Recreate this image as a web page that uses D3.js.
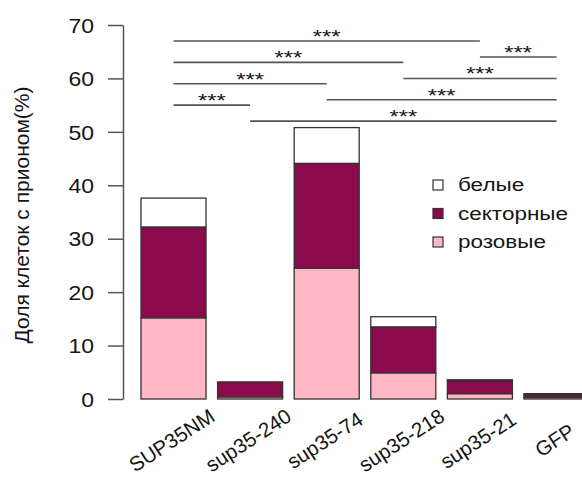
<!DOCTYPE html>
<html>
<head>
<meta charset="utf-8">
<script src="https://cdn.jsdelivr.net/npm/d3@7"></script>
<style>
  body { margin: 0; background: #fff; }
  text { font-family: "Liberation Sans", Arial, sans-serif; fill: #151515; }
</style>
</head>
<body>
<svg id="chart" width="582" height="479"></svg>
<script>
// Strains (x categories)
const categories = ["SUP35NM", "sup35-240", "sup35-74", "sup35-218", "sup35-21", "GFP"];

// Share of cells with prion, % (stacked from the bottom)
const pinkValues   = [15.2, 0.4, 24.5, 4.9, 1.0, 0.3];   // розовые
const sectorValues = [17.0, 2.8, 19.6, 8.6, 2.4, 0.5];   // секторные
const whiteValues  = [5.4, 0.0, 6.7, 1.9, 0.2, 0.2];     // белые

const seriesKeys   = ["pink", "sector", "white"];
const seriesLabels = ["розовые", "секторные", "белые"];
const seriesColors = ["#ffb7c5", "#8b0a4c", "#ffffff"];

const yTicks = [0, 10, 20, 30, 40, 50, 60, 70];
const yLabel = "Доля клеток с прионом(%)";

// Pairwise significance brackets: from category, to category, height (%)
const compFrom  = [0, 0, 0, 0, 4, 3, 2, 1];
const compTo    = [4, 3, 2, 1, 5, 5, 5, 5];
const compLevel = [67, 63, 59, 55, 64, 60, 56, 52];
const sigLabel  = "***";

const svg = d3.select("#chart");

const y = d3.scaleLinear().domain([0, 70]).range([399, 25]);
const x = d3.scaleBand().domain(categories).range([141, 589])
  .paddingInner(0.151).paddingOuter(0);

// Stacked bars
const rows = categories.map((c, i) => ({
  cat: c, pink: pinkValues[i], sector: sectorValues[i], white: whiteValues[i]
}));
const stacked = d3.stack().keys(seriesKeys)(rows);

svg.append("g").selectAll("g")
  .data(stacked)
  .join("g")
  .attr("fill", (d, i) => seriesColors[i])
  .selectAll("rect")
  .data(d => d)
  .join("rect")
  .attr("x", d => x(d.data.cat))
  .attr("width", x.bandwidth())
  .attr("y", d => y(d[1]))
  .attr("height", d => y(d[0]) - y(d[1]))
  .attr("stroke", "#333")
  .attr("stroke-width", 1.3);

// Y axis
const yAxis = svg.append("g")
  .attr("transform", "translate(123,0)")
  .call(d3.axisLeft(y).tickValues(yTicks).tickSize(15).tickSizeOuter(0).tickPadding(14));
yAxis.select(".domain").attr("stroke", "#555").attr("stroke-width", 1.5);
yAxis.selectAll(".tick line").attr("stroke", "#555").attr("stroke-width", 1.5);
yAxis.selectAll(".tick text")
  .attr("font-size", 20)
  .attr("font-family", "Liberation Sans, Arial, sans-serif")
  .attr("fill", "#151515")
  .attr("dy", "0.36em")
  .attr("transform", function () {
    const tx = +d3.select(this).attr("x");
    return `translate(${tx},0) scale(1.15,1) translate(${-tx},0)`;
  });

// Y label
svg.append("text")
  .attr("transform", "translate(29,215) rotate(-90)")
  .attr("text-anchor", "middle")
  .attr("font-size", 21)
  .text(yLabel);

// X labels, rotated
svg.append("g").selectAll("text")
  .data(categories)
  .join("text")
  .attr("transform", d => `translate(${x(d) + x.bandwidth() / 2 - 2},440) rotate(-33)`)
  .attr("text-anchor", "middle")
  .attr("dominant-baseline", "central")
  .attr("font-size", 20.5)
  .text(d => d);

// Significance brackets
const comps = compFrom.map((f, i) => ({ f, t: compTo[i], lvl: compLevel[i] }));
const cx = i => x(categories[i]) + x.bandwidth() / 2;
const sig = svg.append("g");
sig.selectAll("line")
  .data(comps)
  .join("line")
  .attr("x1", d => cx(d.f))
  .attr("x2", d => cx(d.t))
  .attr("y1", d => y(d.lvl))
  .attr("y2", d => y(d.lvl))
  .attr("stroke", "#555")
  .attr("stroke-width", 1.6);
sig.selectAll("text")
  .data(comps)
  .join("text")
  .attr("transform", d => `translate(${(cx(d.f) + cx(d.t)) / 2},${y(d.lvl) + 2}) scale(1.25,1)`)
  .attr("text-anchor", "middle")
  .attr("font-size", 19)
  .text(sigLabel);

// Legend (top to bottom: белые, секторные, розовые)
const legendOrder = [2, 1, 0];
const legend = svg.append("g").selectAll("g")
  .data(legendOrder)
  .join("g")
  .attr("transform", (d, i) => `translate(433,${185 + i * 28.5})`);
legend.append("rect")
  .attr("x", 0).attr("y", -5).attr("width", 10).attr("height", 10)
  .attr("fill", d => seriesColors[d])
  .attr("stroke", "#333").attr("stroke-width", 1.2);
legend.append("text")
  .attr("transform", "translate(25,0) scale(1.25,1)")
  .attr("dominant-baseline", "central")
  .attr("font-size", 18)
  .text(d => seriesLabels[d]);
</script>
</body>
</html>
